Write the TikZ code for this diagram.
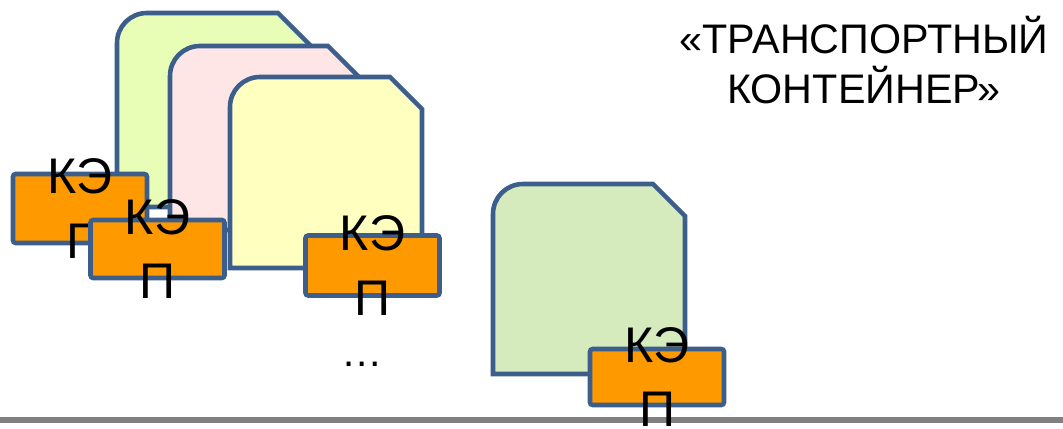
\documentclass[tikz,border=0pt]{standalone}
\usepackage{fontspec}
\setmainfont{Liberation Sans}
\usepackage{xcolor}
\usepackage{tikz}

\definecolor{edgeblue}{HTML}{3B5E8C}
\definecolor{keorange}{HTML}{FF9900}
\definecolor{hullgreen}{HTML}{E8FDB6}
\definecolor{hullpink}{HTML}{FFE6E6}
\definecolor{hullyellow}{HTML}{FFFFC0}
\definecolor{hullsage}{HTML}{D5EBBD}

\tikzset{
  hull/.style={draw=edgeblue, line width=2.6pt, line join=miter},
  kebox/.style={draw=edgeblue, fill=keorange, line width=2.6pt, rounded corners=1.5pt,
    minimum width=2.68cm, inner sep=0pt},
  kelabel/.style={font=\fontsize{28.5}{36.5}\selectfont, align=center, inner sep=0pt}
}

\begin{document}
\begin{tikzpicture}[x=0.02cm, y=-0.02cm]
  \useasboundingbox (0,0) rectangle (1063,429);
  % floor line
  \coordinate (floorL) at (0,420);
  \coordinate (floorR) at (1063,420);
  \draw[gray, line width=3.3pt] (floorL) -- (floorR);

  % stacked containers, back to front
  \draw[hull, fill=hullgreen] (117,207) -- (117,43) .. controls (117,26.4) and (130.4,13) .. (147,13)
    -- (278,13) -- (310,45) -- (310,207) -- cycle;
  \draw[hull, fill=hullpink] (170,230) -- (170,76) .. controls (170,59.4) and (183.4,46) .. (200,46)
    -- (328,46) -- (360,78) -- (360,230) -- cycle;
  \draw[hull, fill=hullyellow] (230,268) -- (230,107) .. controls (230,90.4) and (243.4,77) .. (260,77)
    -- (390,77) -- (422,109) -- (422,268) -- cycle;

  % their elements
  \node[kebox, minimum height=1.38cm] (keA) at (80,208.5) {};
  \node[kelabel] (keAtext) at (keA) {КЭ\\Г};
  \node[kebox, minimum height=1.16cm] (keB) at (157.5,249) {};
  \node[kelabel] (keBtext) at (keB) {КЭ\\П};
  \node[kebox, minimum height=1.2cm] (keC) at (372.5,265.5) {};
  \node[kelabel] (keCtext) at (keC) {КЭ\\П};
  \node[font=\fontsize{23.5}{28.5}\selectfont, anchor=base, inner sep=0pt] (more) at (362,366) {…};

  % single container
  \draw[hull, fill=hullsage] (493,374) -- (493,214) .. controls (493,197.4) and (506.4,184) .. (523,184)
    -- (653,184) -- (685,216) -- (685,374) -- cycle;
  \node[kebox, minimum height=1.12cm] (keD) at (657,377) {};
  \node[kelabel] (keDtext) at (keD) {КЭ\\П};

  \node[font=\fontsize{23.5}{28.5}\selectfont, align=center, inner sep=0pt] (title) at (864,60)
    {«ТРАНСПОРТНЫЙ\\КОНТЕЙНЕР»};
\end{tikzpicture}
\end{document}
